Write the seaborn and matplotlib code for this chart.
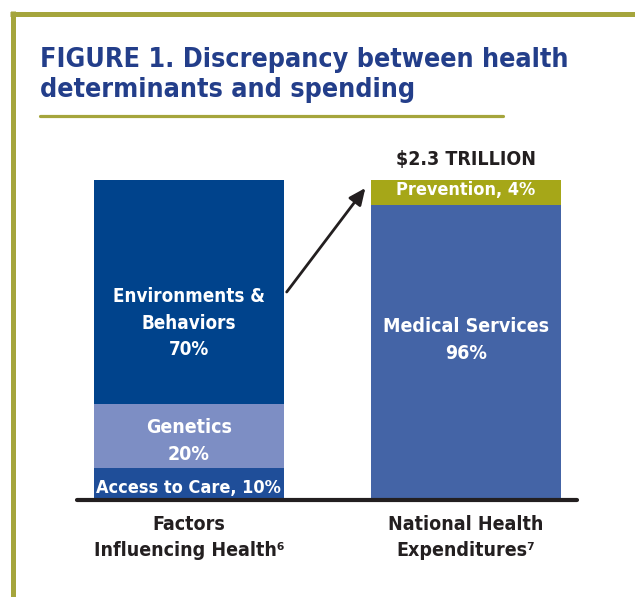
import matplotlib.pyplot as plt
import seaborn as sns
import pandas as pd
from matplotlib.lines import Line2D

# chart data
categories = ["Factors\nInfluencing Health\u2076", "National Health\nExpenditures\u2077"]
left_segments = ["Access to Care, 10%", "Genetics\n20%", "Environments &\nBehaviors\n70%"]
left_heights = [10, 20, 70]
right_segments = ["Medical Services\n96%", "Prevention, 4%"]
right_heights = [92.2, 7.8]   # band heights as drawn in the figure
total_label = r"\$2.3 TRILLION"
title = "FIGURE 1. Discrepancy between health\ndeterminants and spending"

left_colors = ["#1F4E99", "#7D8EC4", "#00438C"]
right_colors = ["#4464A6", "#A6A718"]
left_label_y = [3.8, 18.4, 55.3]
right_label_y = [50, 96.9]
right_label_sizes = [14, 13]
left_label_sizes = [13, 14, 13.5]

olive = "#A5A53C"
title_blue = "#233E8A"
dark = "#231F20"

sns.set_style("white")
plt.rcParams["font.family"] = ["DejaVu Sans"]
plt.rcParams["font.stretch"] = "condensed"
plt.rcParams["font.weight"] = "bold"

W, H = 635, 597
fig = plt.figure(figsize=(W / 100, H / 100), dpi=100)
ax = fig.add_axes([77 / W, (H - 500) / H, 500 / W, 320 / H])

bar_width = 0.686

# build the stacked segments
rows = []
for cat, segs, hs, cols in [(categories[0], left_segments, left_heights, left_colors),
                            (categories[1], right_segments, right_heights, right_colors)]:
    bottom = 0
    for s, h, c in zip(segs, hs, cols):
        rows.append(dict(category=cat, segment=s, bottom=bottom, top=bottom + h, color=c))
        bottom += h
df = pd.DataFrame(rows)

# draw tallest cumulative first so lower segments sit on top
for _, r in df.sort_values("top", ascending=False).iterrows():
    sns.barplot(x=[r["category"]], y=[r["top"]], order=categories, color=r["color"],
                width=bar_width, saturation=1, linewidth=0, ax=ax)

ax.set_xlim(-0.404, 1.401)
ax.set_ylim(0, 100)
ax.axis("off")
ax.axhline(0, color=dark, lw=3, clip_on=False, zorder=5)

# segment labels
for i, (segs, ys, sizes) in enumerate([(left_segments, left_label_y, left_label_sizes),
                                        (right_segments, right_label_y, right_label_sizes)]):
    for s, y, fs in zip(segs, ys, sizes):
        ax.text(i, y, s, ha="center", va="center", color="white", fontsize=fs,
                fontweight="bold", linespacing=1.5)

ax.text(1, 106.3, total_label, ha="center", va="center", color=dark, fontsize=14, fontweight="bold")

# category labels under the baseline
for i, cat in enumerate(categories):
    ax.text(i, -4.6, cat, ha="center", va="top", color=dark, fontsize=14, fontweight="bold",
            linespacing=1.5)

# arrow from left bar to top of right bar
ax.annotate("", xy=(1 - bar_width / 2 - 0.02, 97.5), xytext=(bar_width / 2 + 0.01, 65),
            arrowprops=dict(arrowstyle="-|>,head_length=1.0,head_width=0.45", color=dark, lw=2,
                            shrinkA=0, shrinkB=0))

# title and frame
fig.text(40 / W, 1 - 47 / H, title, ha="left", va="top", color=title_blue, fontsize=19.3,
         fontweight="bold", linespacing=1.2)
fig.add_artist(Line2D([40 / W, 503 / W], [1 - 115.5 / H] * 2, color=olive, lw=2.3))
fig.add_artist(Line2D([10 / W, 1], [1 - 13.5 / H] * 2, color=olive, lw=3.6, solid_capstyle="butt"))
fig.add_artist(Line2D([13 / W] * 2, [0, 1 - 11 / H], color=olive, lw=3.6, solid_capstyle="butt"))

fig.savefig("out.png", dpi=100)
